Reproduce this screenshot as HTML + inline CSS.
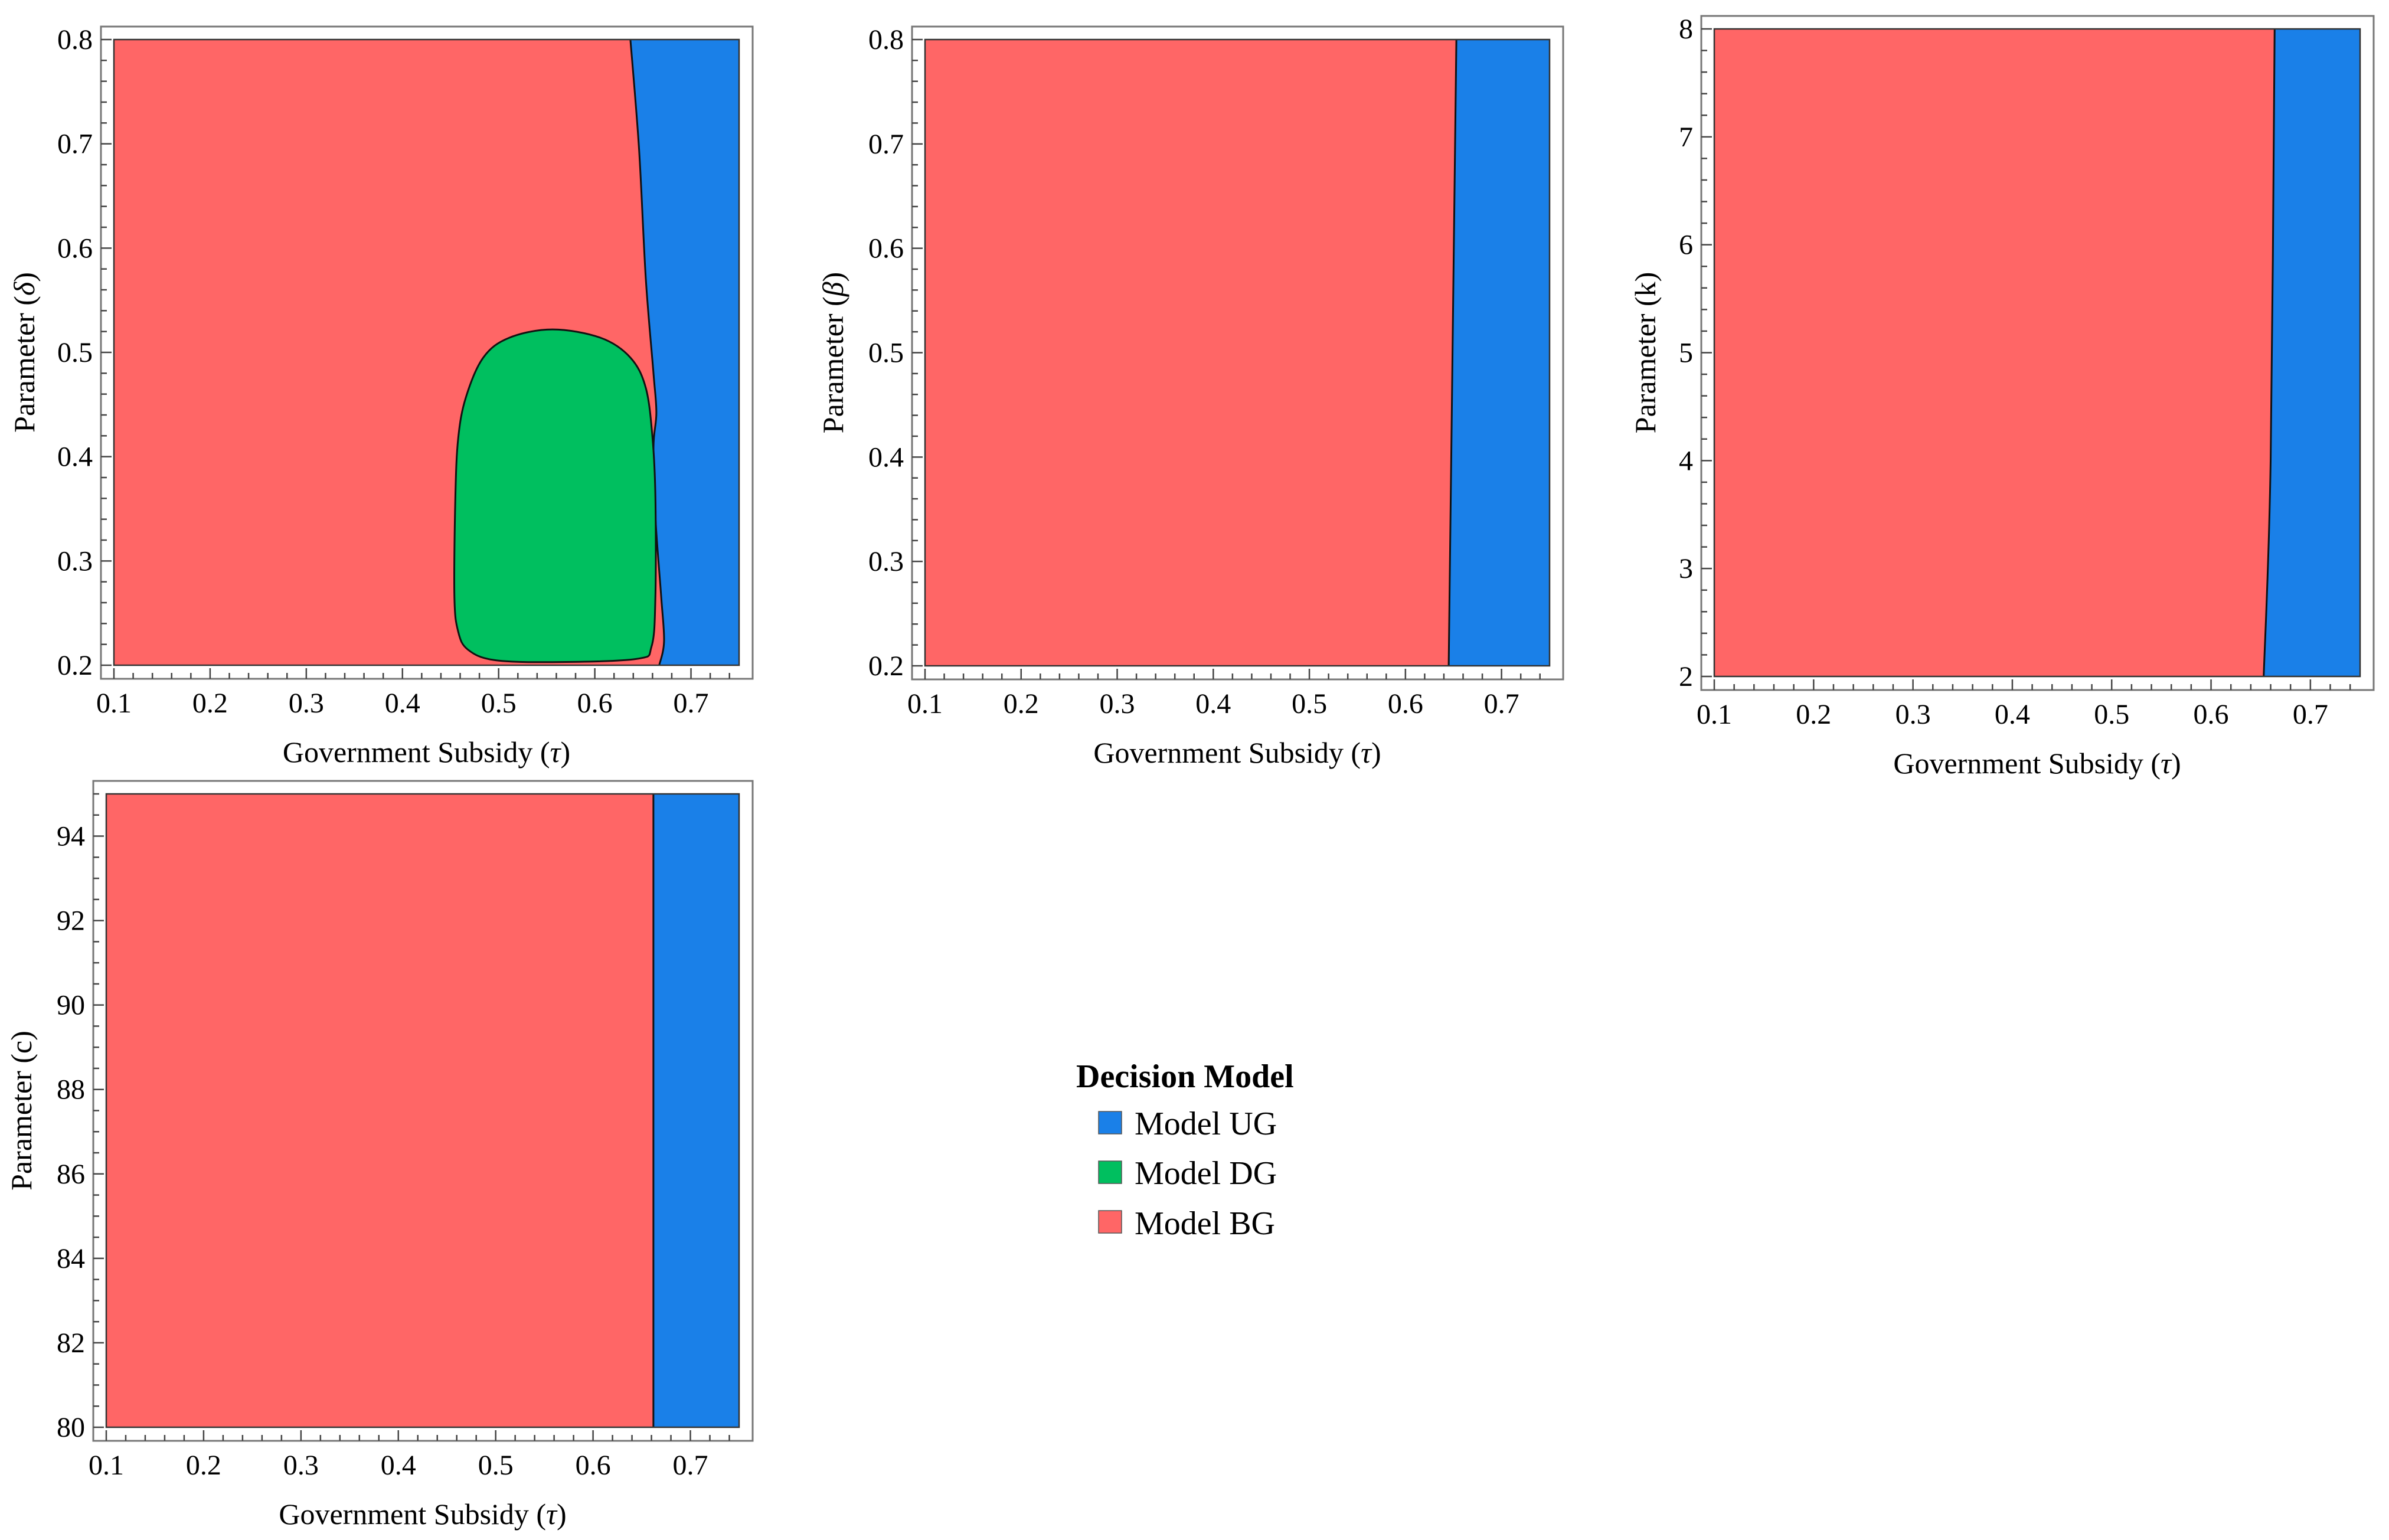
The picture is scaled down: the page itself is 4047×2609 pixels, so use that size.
<!DOCTYPE html>
<html><head><meta charset="utf-8"><style>
html,body{margin:0;padding:0;background:#fff;}
svg{display:block;font-family:"Liberation Serif",serif;}
</style></head><body>
<svg id="chart" width="4047" height="2609" viewBox="0 0 4047 2609" xmlns="http://www.w3.org/2000/svg">
<g id="legend">
<text x="1823" y="1842" font-size="56" font-weight="bold">Decision Model</text>
<g><rect x="1861" y="1883" width="39" height="38" fill="#1A80E8" stroke="#555" stroke-width="1.5"/><text x="1922" y="1922" font-size="56">Model UG</text></g>
<g><rect x="1861" y="1967" width="39" height="38" fill="#00BF5F" stroke="#555" stroke-width="1.5"/><text x="1922" y="2006" font-size="56">Model DG</text></g>
<g><rect x="1861" y="2051" width="39" height="38" fill="#FF6666" stroke="#555" stroke-width="1.5"/><text x="1922" y="2091" font-size="56">Model BG</text></g>
</g>
</svg>
<script>
// Panel 1 (delta): UG boundary (tau at each delta), DG blob outline
const p1BoundaryTau = [0.637, 0.646, 0.653, 0.661, 0.664, 0.661, 0.663, 0.669, 0.672, 0.667];
const p1BoundaryDelta = [0.8, 0.695, 0.571, 0.48, 0.442, 0.409, 0.342, 0.266, 0.223, 0.2];
const p1BlobTau = [0.556, 0.511, 0.484, 0.466, 0.458, 0.455, 0.454, 0.458, 0.468, 0.495, 0.556, 0.643, 0.659, 0.663, 0.663, 0.660, 0.653, 0.637, 0.606];
const p1BlobDelta = [0.522, 0.514, 0.495, 0.457, 0.418, 0.361, 0.266, 0.232, 0.215, 0.205, 0.203, 0.206, 0.218, 0.266, 0.361, 0.418, 0.466, 0.495, 0.514];
// Panel 2 (beta)
const p2BoundaryTau = [0.653, 0.645];
const p2BoundaryBeta = [0.8, 0.2];
// Panel 3 (k)
const p3BoundaryTau = [0.664, 0.660, 0.653];
const p3BoundaryK = [8, 4, 2];
// Panel 4 (c)
const p4BoundaryTau = [0.662, 0.662];
const p4BoundaryC = [95, 80];
// tick labels
const xTickLabels = ["0.1","0.2","0.3","0.4","0.5","0.6","0.7"];
const p1YTickLabels = ["0.2","0.3","0.4","0.5","0.6","0.7","0.8"];
const p3YTickLabels = ["2","3","4","5","6","7","8"];
const p4YTickLabels = ["80","82","84","86","88","90","92","94"];

const NS = "http://www.w3.org/2000/svg";
const svg = document.getElementById('chart');
const RED = "#FF6666", BLUE = "#1A80E8", GREEN = "#00BF5F";

function mk(tag, attrs, parent){
  const e = document.createElementNS(NS, tag);
  for (const k in attrs) e.setAttribute(k, attrs[k]);
  (parent||svg).appendChild(e);
  return e;
}

function smoothOpen(bp){
  let d = 'M' + bp[0][0] + ',' + bp[0][1];
  const n = bp.length;
  for (let i=0;i<n-1;i++){
    const p0=bp[Math.max(i-1,0)], p1=bp[i], p2=bp[i+1], p3=bp[Math.min(i+2,n-1)];
    const c1x=p1[0]+(p2[0]-p0[0])/6, c1y=p1[1]+(p2[1]-p0[1])/6;
    const c2x=p2[0]-(p3[0]-p1[0])/6, c2y=p2[1]-(p3[1]-p1[1])/6;
    d += ' C'+c1x+','+c1y+' '+c2x+','+c2y+' '+p2[0]+','+p2[1];
  }
  return d;
}

function panel(cfg){
  const g = mk('g', {});
  
  
  const {L,R,T,B} = cfg.plot;
  const fx = v => L + (v - 0.1) / 0.65 * (R - L);
  const fy = v => B - (v - cfg.ymin) / (cfg.ymax - cfg.ymin) * (B - T);
  const FL = L - 22, FR = R + 23, FT = T - 22, FB = B + 23;
  const frame = mk('rect', {x:FL, y:FT, width:FR-FL, height:FB-FT, fill:'none', stroke:'#777', 'stroke-width':3}, g);
  
  
  const bg = mk('rect', {x:L, y:T, width:R-L, height:B-T, fill:RED}, g);
  
  
  const pts = cfg.bTau.map((t,i)=>[fx(t), fy(cfg.bY[i])]);
  const curve = smoothOpen(pts);
  const last = cfg.bY[cfg.bY.length-1];
  const ug = mk('path', {d: curve + ' L' + R + ',' + fy(last) + ' L' + R + ',' + fy(cfg.bY[0]) + 'Z', fill:BLUE}, g);
  
  
  const bl = mk('path', {d: curve, fill:'none', stroke:'#111', 'stroke-width':3}, g);
  
  
  if (cfg.blobTau){
    const bp = cfg.blobTau.map((t,i)=>[fx(t), fy(cfg.blobY[i])]);
    let d = 'M' + bp[0][0] + ',' + bp[0][1];
    const n = bp.length;
    for (let i=0;i<n;i++){
      const p0=bp[(i-1+n)%n], p1=bp[i], p2=bp[(i+1)%n], p3=bp[(i+2)%n];
      const c1x=p1[0]+(p2[0]-p0[0])/6, c1y=p1[1]+(p2[1]-p0[1])/6;
      const c2x=p2[0]-(p3[0]-p1[0])/6, c2y=p2[1]-(p3[1]-p1[1])/6;
      d += ' C'+c1x+','+c1y+' '+c2x+','+c2y+' '+p2[0]+','+p2[1];
    }
    const blob = mk('path', {d: d+'Z', fill:GREEN, stroke:'#111', 'stroke-width':3}, g);
    
    
  }
  const outline = mk('rect', {x:L, y:T, width:R-L, height:B-T, fill:'none', stroke:'#333', 'stroke-width':2.5}, g);
  
  
  for (let i=0;i<=32;i++){
    const v = 0.1 + i*0.02;
    if (v > 0.7501) break;
    const major = i%5===0;
    const x = fx(v);
    mk('line', {x1:x, y1:FB, x2:x, y2:FB-(major?18:10), stroke:'#444', 'stroke-width':2.5}, g);
  }
  xTickLabels.forEach(lab=>{
    const t = mk('text', {x:fx(parseFloat(lab)), y:FB+57, 'font-size':48, 'text-anchor':'middle'}, g);
    t.textContent = lab;
    
    
  });
  const nMinor = Math.round((cfg.ymax-cfg.ymin)/cfg.minor);
  for (let i=0;i<=nMinor;i++){
    const v = cfg.ymin + i*cfg.minor;
    const major = i % cfg.per === 0;
    const y = fy(v);
    mk('line', {x1:FL, y1:y, x2:FL+(major?18:10), y2:y, stroke:'#444', 'stroke-width':2.5}, g);
  }
  cfg.yLabels.forEach(lab=>{
    const t = mk('text', {x:FL-14, y:fy(parseFloat(lab))+16, 'font-size':48, 'text-anchor':'end'}, g);
    t.textContent = lab;
    
    
  });
  const xt = mk('text', {x:(L+R)/2, y:FB+141, 'font-size':50, 'text-anchor':'middle'}, g);
  xt.innerHTML = 'Government Subsidy (<tspan font-style="italic">τ</tspan>)';
  
  
  const yt = mk('text', {x:0, y:0, 'font-size':50, 'text-anchor':'middle', transform:'translate('+(cfg.ytx)+','+((T+B)/2)+') rotate(-90)'}, g);
  yt.innerHTML = cfg.ytitle;
  
  
}

panel({name:'panel-delta', plot:{L:193,R:1252,T:67,B:1127}, ymin:0.2, ymax:0.8, minor:0.02, per:5,
  yLabels:p1YTickLabels, bTau:p1BoundaryTau, bY:p1BoundaryDelta, blobTau:p1BlobTau, blobY:p1BlobDelta,
  ytx:58, ytitle:'Parameter (<tspan font-style="italic">δ</tspan>)'});
panel({name:'panel-beta', plot:{L:1567,R:2625,T:67,B:1128}, ymin:0.2, ymax:0.8, minor:0.02, per:5,
  yLabels:p1YTickLabels, bTau:p2BoundaryTau, bY:p2BoundaryBeta,
  ytx:1428, ytitle:'Parameter (<tspan font-style="italic">β</tspan>)'});
panel({name:'panel-k', plot:{L:2904,R:3998,T:49,B:1146}, ymin:2, ymax:8, minor:0.2, per:5,
  yLabels:p3YTickLabels, bTau:p3BoundaryTau, bY:p3BoundaryK,
  ytx:2804, ytitle:'Parameter (k)'});
panel({name:'panel-c', plot:{L:180,R:1252,T:1345,B:2418}, ymin:80, ymax:95, minor:0.5, per:4,
  yLabels:p4YTickLabels, bTau:p4BoundaryTau, bY:p4BoundaryC,
  ytx:53, ytitle:'Parameter (c)'});
</script>
</body></html>
